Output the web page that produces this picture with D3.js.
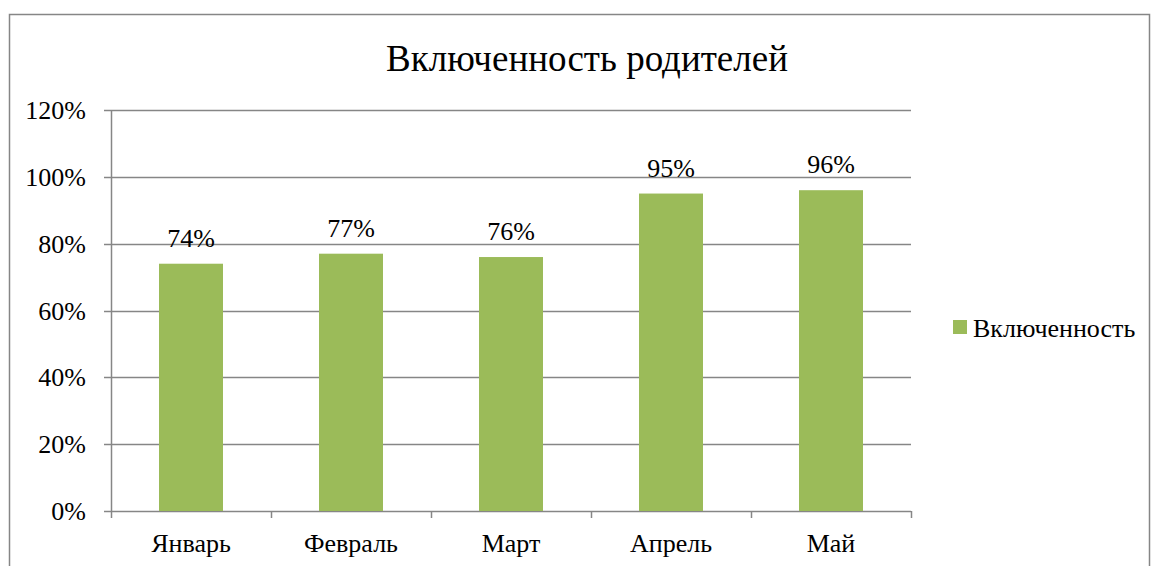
<!DOCTYPE html>
<html lang="ru">
<head>
<meta charset="utf-8">
<title>Включенность родителей</title>
<script src="https://d3js.org/d3.v7.min.js"></script>
<style>
  body { margin: 0; background: #fff; }
  svg { display: block; }
  svg text { font-family: 'Liberation Serif', 'Times New Roman', serif; fill: #000; }
</style>
</head>
<body>
<div id="chart"></div>
<script>
// data
var months = ["Январь", "Февраль", "Март", "Апрель", "Май"];
var values = [0.74, 0.77, 0.76, 0.95, 0.96];
var yTicks = [0, 0.2, 0.4, 0.6, 0.8, 1.0, 1.2];
var seriesName = "Включенность";
var title = "Включенность родителей";

var W = 1154, H = 566;
var margin = {top: 110, left: 111};
var width = 911 - margin.left,
    height = 511 - margin.top;

var svg = d3.select("#chart").append("svg")
    .attr("width", W)
    .attr("height", H);

// outer frame
svg.append("rect")
    .attr("x", 9.5).attr("y", 14.5)
    .attr("width", 1140).attr("height", 600)
    .attr("fill", "none")
    .attr("stroke", "#868686")
    .attr("stroke-width", 1.5);

svg.append("text")
    .attr("x", 587).attr("y", 71)
    .attr("text-anchor", "middle")
    .style("font-size", "37px")
    .text(title);

var g = svg.append("g")
    .attr("transform", "translate(" + margin.left + "," + margin.top + ")");

var xc = d3.scaleBand().domain(months).range([0, width]);
var y = d3.scaleLinear().domain([0, 1.2]).range([height, 0]);

// gridlines
g.selectAll(".grid").data(yTicks).enter().append("line")
    .attr("x1", -7).attr("x2", width)
    .attr("y1", function(d) { return Math.round(y(d)) + 0.5; })
    .attr("y2", function(d) { return Math.round(y(d)) + 0.5; })
    .attr("stroke", "#868686")
    .attr("stroke-width", 1.5);

// y axis line
g.append("line")
    .attr("x1", 0.5).attr("x2", 0.5)
    .attr("y1", 0).attr("y2", height + 7)
    .attr("stroke", "#868686").attr("stroke-width", 1.5);

// x ticks at category boundaries
var bounds = months.map(function(m) { return xc(m) + xc.bandwidth(); });
g.selectAll(".xt").data(bounds).enter().append("line")
    .attr("x1", function(d) { return Math.round(d) + 0.5; })
    .attr("x2", function(d) { return Math.round(d) + 0.5; })
    .attr("y1", height).attr("y2", height + 7)
    .attr("stroke", "#868686").attr("stroke-width", 1.5);

// y labels
g.selectAll(".yl").data(yTicks).enter().append("text")
    .attr("x", -25)
    .attr("y", function(d) { return y(d) + 9; })
    .attr("text-anchor", "end")
    .style("font-size", "26px")
    .text(function(d) { return d3.format(".0%")(d); });

// x labels
g.selectAll(".xl").data(months).enter().append("text")
    .attr("x", function(d) { return xc(d) + xc.bandwidth() / 2; })
    .attr("y", height + 41)
    .attr("text-anchor", "middle")
    .style("font-size", "26px")
    .text(function(d) { return d; });

// bars
g.selectAll(".bar").data(values).enter().append("rect")
    .attr("x", function(d, i) { return xc(months[i]) + xc.bandwidth() / 2 - 32; })
    .attr("width", 64)
    .attr("y", function(d) { return y(d); })
    .attr("height", function(d) { return height - y(d); })
    .attr("fill", "#9BBB59");

// data labels
g.selectAll(".dl").data(values).enter().append("text")
    .attr("x", function(d, i) { return xc(months[i]) + xc.bandwidth() / 2; })
    .attr("y", function(d) { return y(d) - 17; })
    .attr("text-anchor", "middle")
    .style("font-size", "26px")
    .text(function(d) { return d3.format(".0%")(d); });

// legend
var lg = svg.append("g").attr("transform", "translate(953,320)");
lg.append("rect").attr("width", 14).attr("height", 14).attr("fill", "#9BBB59");
lg.append("text").attr("x", 20).attr("y", 17)
    .style("font-size", "26px")
    .text(seriesName);
</script>
</body>
</html>
